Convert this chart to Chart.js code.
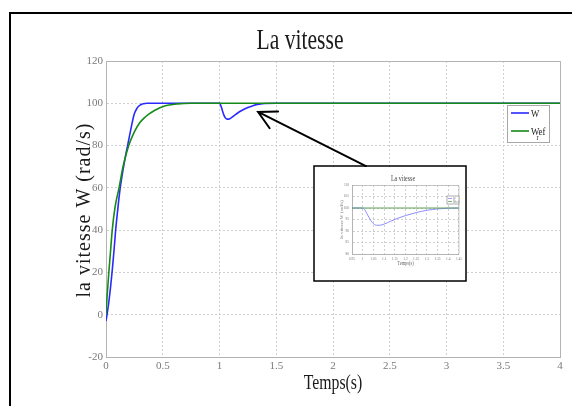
<!DOCTYPE html>
<html>
<head>
<meta charset="utf-8">
<script src="https://cdn.jsdelivr.net/npm/chart.js@4"></script>
<style>
  html, body { margin: 0; padding: 0; background: #fff; }
  #wrap { position: relative; width: 572px; height: 406px; overflow: hidden; }
  #main { position: absolute; left: 0; top: 0; }
  #zoom { position: absolute; left: 315px; top: 167px; filter: blur(0.45px); }
</style>
</head>
<body>
<div id="wrap">
  <canvas id="main" width="572" height="406"></canvas>
  <canvas id="zoom" width="150" height="113"></canvas>
</div>
<script>
// Speed response W and reference Wref (rad/s) against time (s)
const wTime   = [0, 0.02, 0.04, 0.055, 0.07, 0.085, 0.1, 0.123, 0.15, 0.19, 0.22, 0.247, 0.275, 0.305, 0.33, 0.36, 0.5, 1.0,
                 1.01, 1.02, 1.03, 1.04, 1.05, 1.065, 1.08, 1.10, 1.13, 1.16, 1.20, 1.25, 1.30, 1.35, 1.40, 1.5, 4];
const wValues = [-3, 4, 13, 21, 30, 40, 48, 59, 68.5, 80, 88, 94.6, 97.8, 99.3, 99.8, 100, 100, 100,
                 99.2, 97.5, 95.8, 94.3, 93.2, 92.5, 92.5, 93.0, 94.2, 95.4, 96.7, 98.0, 99.0, 99.6, 99.9, 100, 100];

const refTime   = [0, 0.01, 0.025, 0.04, 0.055, 0.08, 0.115, 0.15, 0.2, 0.25, 0.3, 0.335, 0.38, 0.423, 0.51, 0.63, 0.75, 1, 4];
const refValues = [0, 9, 20, 30, 40, 51, 60, 70, 80, 86.5, 91, 93, 95, 96.5, 98.6, 99.7, 100, 100, 100];

const xTickLabels = ['0', '0.5', '1', '1.5', '2', '2.5', '3', '3.5', '4'];
const yTickLabels = ['-20', '0', '20', '40', '60', '80', '100', '120'];
const zoomXTickLabels = ['0.95', '1', '1.05', '1.1', '1.15', '1.2', '1.25', '1.3', '1.35', '1.4', '1.45'];
const zoomYTickLabels = ['80', '85', '90', '95', '100', '105', '110'];

const TITLE = 'La vitesse';
const X_LABEL = 'Temps(s)';
const Y_LABEL = 'la vitesse W (rad/s)';
const LEGEND_W = 'W';
const LEGEND_REF = ['W', 'r', 'ef'];

// arrow pointing at the disturbance, given in data units (tail, tip)
const arrowFrom = { t: 2.29, w: 70.3 };
const arrowTo   = { t: 1.34, w: 95.9 };

const SERIF = "'Liberation Serif', 'DejaVu Serif', serif";
const BLUE = '#2a2aff';
const GREEN = '#168a16';

const toPoints = (ts, vs) => ts.map((t, i) => ({ x: t, y: vs[i] }));

function squeezedText(ctx, text, x, y, size, sx, color, align) {
  ctx.save();
  ctx.font = size + 'px ' + SERIF;
  ctx.fillStyle = color;
  ctx.textAlign = align || 'center';
  ctx.textBaseline = 'alphabetic';
  ctx.translate(x, y);
  ctx.scale(sx, 1);
  ctx.fillText(text, 0, 0);
  ctx.restore();
}

function verticalText(ctx, text, x, y, size, color, spacing) {
  ctx.save();
  ctx.font = size + 'px ' + SERIF;
  ctx.fillStyle = color;
  ctx.textAlign = 'center';
  ctx.textBaseline = 'alphabetic';
  if (spacing) ctx.letterSpacing = spacing + 'px';
  ctx.translate(x, y);
  ctx.rotate(-Math.PI / 2);
  ctx.fillText(text, 0, 0);
  ctx.restore();
}

function datasets(lw) {
  return [
    { label: 'Wref', data: toPoints(refTime, refValues), borderColor: GREEN, borderWidth: lw,
      pointRadius: 0, cubicInterpolationMode: 'monotone', fill: false },
    { label: 'W', data: toPoints(wTime, wValues), borderColor: BLUE, borderWidth: lw,
      pointRadius: 0, cubicInterpolationMode: 'monotone', fill: false }
  ];
}

function axis(min, max, step, labels, fontSize, extra) {
  return Object.assign({
    type: 'linear', min: min, max: max,
    ticks: {
      stepSize: step, autoSkip: false, maxRotation: 0,
      font: { family: SERIF, size: fontSize }, color: '#7a7a7a',
      callback: (v, i) => labels[i]
    },
    grid: { color: '#cfcfcf', lineWidth: 1, drawTicks: false },
    border: { color: '#b4b4b4', width: 1, dash: [2, 2] }
  }, extra);
}

const mainDecor = {
  id: 'mainDecor',
  afterDraw(chart) {
    const { ctx, chartArea: a, scales: { x, y } } = chart;
    ctx.save();
    // axes box top / right
    ctx.strokeStyle = '#b4b4b4';
    ctx.lineWidth = 1;
    ctx.beginPath();
    ctx.moveTo(a.left, a.top + 0.5); ctx.lineTo(a.right + 0.5, a.top + 0.5); ctx.lineTo(a.right + 0.5, a.bottom);
    ctx.stroke();

    // figure frame
    ctx.strokeStyle = '#000';
    ctx.lineWidth = 2;
    ctx.strokeRect(10, 13, 620, 460);

    // texts
    squeezedText(ctx, TITLE, 300, 49, 30, 0.72, '#1a1a1a');
    squeezedText(ctx, X_LABEL, (a.left + a.right) / 2, 389, 21, 0.75, '#1a1a1a');
    verticalText(ctx, Y_LABEL, 90, (a.top + a.bottom) / 2 + 1, 20, '#1a1a1a', 1);

    // legend
    const lx = 507, ly = 105;
    ctx.fillStyle = '#fff';
    ctx.fillRect(lx, ly, 42, 37);
    ctx.strokeStyle = '#a8a8a8';
    ctx.lineWidth = 1;
    ctx.strokeRect(lx + 0.5, ly + 0.5, 42, 37);
    ctx.lineWidth = 1.6;
    ctx.strokeStyle = BLUE;
    ctx.beginPath(); ctx.moveTo(lx + 4, ly + 8); ctx.lineTo(lx + 22, ly + 8); ctx.stroke();
    ctx.strokeStyle = GREEN;
    ctx.beginPath(); ctx.moveTo(lx + 4, ly + 26); ctx.lineTo(lx + 22, ly + 26); ctx.stroke();
    squeezedText(ctx, LEGEND_W, lx + 24, ly + 12, 11, 0.8, '#222', 'left');
    squeezedText(ctx, LEGEND_REF[0], lx + 24, ly + 30, 11, 0.8, '#222', 'left');
    squeezedText(ctx, LEGEND_REF[1], lx + 29.5, ly + 35, 8, 0.8, '#222', 'left');
    squeezedText(ctx, LEGEND_REF[2], lx + 31.5, ly + 30, 11, 0.8, '#222', 'left');

    // inset frame
    ctx.fillStyle = '#fff';
    ctx.fillRect(314, 166, 152, 115);
    ctx.strokeStyle = '#000';
    ctx.lineWidth = 1.5;
    ctx.strokeRect(314, 166, 152, 115);

    // arrow
    const x0 = x.getPixelForValue(arrowFrom.t), y0 = y.getPixelForValue(arrowFrom.w);
    const x1 = x.getPixelForValue(arrowTo.t), y1 = y.getPixelForValue(arrowTo.w);
    const ang = Math.atan2(y0 - y1, x0 - x1);
    const len = 20, spread = 28 * Math.PI / 180;
    ctx.strokeStyle = '#000';
    ctx.lineWidth = 2;
    ctx.lineCap = 'round';
    ctx.beginPath();
    ctx.moveTo(x0, y0); ctx.lineTo(x1, y1);
    ctx.moveTo(x1 + len * Math.cos(ang - spread), y1 + len * Math.sin(ang - spread));
    ctx.lineTo(x1, y1);
    ctx.lineTo(x1 + len * Math.cos(ang + spread), y1 + len * Math.sin(ang + spread));
    ctx.stroke();
    ctx.restore();
  }
};

new Chart(document.getElementById('main'), {
  type: 'line',
  data: { datasets: datasets(1.6) },
  options: {
    responsive: false, animation: false, devicePixelRatio: 1,
    layout: { padding: { left: 0, right: 12, top: 61, bottom: 0 } },
    plugins: { legend: { display: false }, title: { display: false }, tooltip: { enabled: false } },
    scales: {
      x: axis(0, 4, 0.5, xTickLabels, 11, { afterFit: s => { s.height = 49; } }),
      y: axis(-20, 120, 20, yTickLabels, 11, { afterFit: s => { s.width = 106; } })
    }
  },
  plugins: [mainDecor]
});
</script>
<script>
// Close-up of the load disturbance around t = 1 s
const zoomDecor = {
  id: 'zoomDecor',
  afterDraw(chart) {
    const { ctx, chartArea: a } = chart;
    ctx.save();
    ctx.strokeStyle = '#b0b0b0';
    ctx.lineWidth = 0.7;
    ctx.beginPath();
    ctx.moveTo(a.left, a.top + 0.5); ctx.lineTo(a.right, a.top + 0.5); ctx.lineTo(a.right, a.bottom);
    ctx.stroke();
    squeezedText(ctx, TITLE, 88, 14, 8, 0.75, '#444');
    squeezedText(ctx, X_LABEL, (a.left + a.right) / 2, 98, 5.5, 0.8, '#666');
    verticalText(ctx, Y_LABEL, 28, (a.top + a.bottom) / 2, 5, '#777');
    // legend
    const lx = 132, ly = 29;
    ctx.fillStyle = '#fff';
    ctx.fillRect(lx, ly, 12, 8);
    ctx.strokeStyle = '#777';
    ctx.lineWidth = 0.6;
    ctx.strokeRect(lx, ly, 12, 8);
    ctx.lineWidth = 0.8;
    ctx.strokeStyle = '#8888ff';
    ctx.beginPath(); ctx.moveTo(lx + 1, ly + 2.5); ctx.lineTo(lx + 5, ly + 2.5); ctx.stroke();
    ctx.strokeStyle = '#5aa05a';
    ctx.beginPath(); ctx.moveTo(lx + 1, ly + 5.5); ctx.lineTo(lx + 5, ly + 5.5); ctx.stroke();
    squeezedText(ctx, LEGEND_W, lx + 6, ly + 3.8, 3.5, 0.8, '#666', 'left');
    squeezedText(ctx, LEGEND_REF.join(''), lx + 6, ly + 7, 3.5, 0.8, '#666', 'left');
    ctx.restore();
  }
};

const zoomSets = datasets(1);
zoomSets[0].borderColor = '#5aa05a';
zoomSets[1].borderColor = '#8c8cff';

new Chart(document.getElementById('zoom'), {
  type: 'line',
  data: { datasets: zoomSets },
  options: {
    responsive: false, animation: false, devicePixelRatio: 1,
    layout: { padding: { left: 0, right: 5, top: 18, bottom: 0 } },
    plugins: { legend: { display: false }, title: { display: false }, tooltip: { enabled: false } },
    scales: {
      x: axis(0.95, 1.45, 0.05, zoomXTickLabels, 3.5, {
        afterFit: s => { s.height = 26; } }),
      y: axis(80, 110, 5, zoomYTickLabels, 3.5, {
        afterFit: s => { s.width = 37; } })
    }
  },
  plugins: [zoomDecor]
});
</script>
</body>
</html>
